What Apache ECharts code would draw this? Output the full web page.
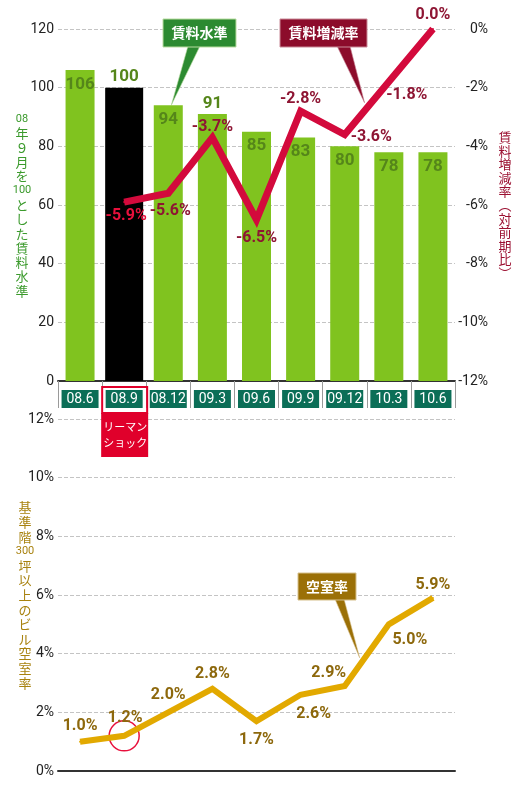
<!DOCTYPE html>
<html>
<head>
<meta charset="utf-8">
<title>賃料水準と空室率</title>
<style>
  *{margin:0;padding:0;}
  #main{width:520px;height:790px;}
</style>
<script src="https://cdn.jsdelivr.net/npm/echarts@6.0.0/dist/echarts.min.js"></script>
</head>
<body>
<div id="main"></div>
<script>
// データ
const periods = ['08.6', '08.9', '08.12', '09.3', '09.6', '09.9', '09.12', '10.3', '10.6'];
const rentLevel = [106, 100, 94, 91, 85, 83, 80, 78, 78];       // 08年9月=100
const rentChange = ['-', -5.9, -5.6, -3.7, -6.5, -2.8, -3.6, -1.8, 0.0]; // 対前期比 %
const vacancy = [1.0, 1.2, 2.0, 2.8, 1.7, 2.6, 2.9, 5.0, 5.9];  // 空室率 %
const levelTicks = {min: 0, max: 120, interval: 20};
const changeTicks = {min: -12, max: 0, interval: 2};
const vacancyTicks = {min: 0, max: 12, interval: 2};
const shockIndex = 1;   // リーマンショック

// ラベル配置（位置・距離・ずらし）
const levelLabelPos = ['insideTop', 'top', 'insideTop', 'top', 'insideTop', 'insideTop', 'insideTop', 'insideTop', 'insideTop'];
const changeLabelPos = [null, ['bottom', 5, [2, 0]], ['bottom', 9, [2, 0]], ['top', 2, [0, 0]], ['bottom', 9, [0, 0]],
  ['top', 3, [0, 0]], ['right', 5, [0, 2]], ['bottom', 4, [18, 0]], ['top', 5, [0, 0]]];
const vacancyLabelPos = [['top', 7, [0, 0]], ['top', 9, [1, 0]], ['top', 8, [0, 0]], ['top', 6, [0, 0]], ['bottom', 10, [0, 0]],
  ['bottom', 10, [13, 0]], ['top', 4, [-16, 0]], ['bottom', 7, [21, 0]], ['top', 4, [0, 0]]];

const NUM = "'Roboto',sans-serif";
const CJK = "'Noto Sans CJK JP',sans-serif";

const chart = echarts.init(document.getElementById('main'));

const dash = {type: 'dashed', color: '#c4c4c4', width: 1};
const tickText = {color: '#222', fontSize: 14, fontFamily: NUM};

const option = {
  backgroundColor: '#fff',
  animation: false,
  grid: [
    {left: 58, width: 397, top: 29, height: 352, outerBoundsMode: 'none'},
    {left: 58, width: 397, top: 419, height: 352, outerBoundsMode: 'none'}
  ],
  xAxis: [
    {
      type: 'category', gridIndex: 0, data: periods,
      axisLine: {lineStyle: {color: '#333', width: 2}},
      axisTick: {show: true, length: 27, lineStyle: {color: '#9a9a9a', width: 1}},
      axisLabel: {
        interval: 0, margin: 9,
        formatter: v => '{b|' + v + '}',
        rich: {b: {color: '#fff', backgroundColor: '#0b6e57', width: 37, height: 18, lineHeight: 18,
          align: 'center', fontSize: 14, fontFamily: NUM}}
      }
    },
    {
      type: 'category', gridIndex: 1, data: periods,
      axisLine: {lineStyle: {color: '#333', width: 2}},
      axisTick: {show: false}, axisLabel: {show: false}
    }
  ],
  yAxis: [
    {
      type: 'value', gridIndex: 0, ...levelTicks,
      axisLine: {show: false}, axisTick: {show: false},
      axisLabel: {...tickText, margin: 4},
      splitLine: {lineStyle: dash},
      name: '{n|08}\n年\n９\n月\nを\n{n|100}\nと\nし\nた\n賃\n料\n水\n準',
      nameLocation: 'middle', nameRotate: 0, nameGap: 36, nameMoveOverlap: false,
      nameTextStyle: {color: '#3b9a2c', fontSize: 13, fontFamily: CJK, lineHeight: 14.3,
        align: 'center', verticalAlign: 'middle',
        rich: {n: {fontSize: 11, fontFamily: NUM, color: '#3b9a2c', lineHeight: 14.3}}}
    },
    {
      type: 'value', gridIndex: 0, position: 'right', ...changeTicks,
      axisLine: {show: false}, axisTick: {show: false},
      axisLabel: {...tickText, margin: 33, align: 'right', formatter: v => v + '%'},
      splitLine: {show: false},
      name: '賃\n料\n増\n減\n率\n︵\n対\n前\n期\n比\n︶',
      nameLocation: 'middle', nameRotate: 0, nameGap: 50, nameMoveOverlap: false,
      nameTextStyle: {color: '#9b1031', fontSize: 13, fontFamily: CJK, lineHeight: 13.6,
        align: 'center', verticalAlign: 'middle'}
    },
    {
      type: 'value', gridIndex: 1, ...vacancyTicks,
      axisLine: {show: false}, axisTick: {show: false},
      axisLabel: {...tickText, margin: 4, formatter: v => v + '%'},
      splitLine: {lineStyle: dash},
      name: '基\n準\n階\n{n|300}\n坪\n以\n上\nの\nビ\nル\n空\n室\n率',
      nameLocation: 'middle', nameRotate: 0, nameGap: 33, nameMoveOverlap: false,
      nameTextStyle: {color: '#a8820f', fontSize: 13, fontFamily: CJK, lineHeight: 14.6,
        align: 'center', verticalAlign: 'middle',
        rich: {n: {fontSize: 11, fontFamily: NUM, color: '#a8820f', lineHeight: 14.6}}}
    }
  ],
  series: [
    {
      name: '賃料水準', type: 'pictorialBar', xAxisIndex: 0, yAxisIndex: 0,
      symbol: 'rect', symbolSize: [29, '100%'], z: 2,
      data: rentLevel.map((v, i) => ({
        value: v,
        symbolSize: i === shockIndex ? [38, '100%'] : [29, '100%'],
        itemStyle: {color: i === shockIndex ? '#000' : '#80c31f'},
        label: {position: levelLabelPos[i], distance: levelLabelPos[i] === 'top' ? 2 : 6}
      })),
      label: {show: true, color: '#55861a', fontSize: 17, fontWeight: 'bold', fontFamily: NUM}
    },
    {
      name: '賃料増減率', type: 'line', xAxisIndex: 0, yAxisIndex: 1, z: 5,
      symbol: 'circle', symbolSize: 2, itemStyle: {color: '#d30a3c'},
      lineStyle: {color: '#d30a3c', width: 7, join: 'miter'},
      data: rentChange.map((v, i) => {
        if (v === '-') return '-';
        const p = changeLabelPos[i];
        return {value: v, label: {position: p[0], distance: p[1], offset: p[2],
          color: i === shockIndex ? '#e8103c' : '#8e1533'}};
      }),
      label: {show: true, fontSize: 16, fontWeight: 'bold', fontFamily: NUM,
        formatter: p => p.value.toFixed(1) + '%'}
    },
    {
      name: '空室率', type: 'line', xAxisIndex: 1, yAxisIndex: 2, z: 5,
      symbol: 'circle', symbolSize: 2, itemStyle: {color: '#e2a900'},
      lineStyle: {color: '#e2a900', width: 6, join: 'miter'},
      data: vacancy.map((v, i) => {
        const p = vacancyLabelPos[i];
        return {value: v, label: {position: p[0], distance: p[1], offset: p[2]}};
      }),
      label: {show: true, color: '#8d680c', fontSize: 16, fontWeight: 'bold', fontFamily: NUM,
        formatter: p => p.value.toFixed(1) + '%'},
      markPoint: {
        silent: true, symbol: 'circle', symbolSize: 30,
        itemStyle: {color: 'rgba(0,0,0,0)', borderColor: '#e8103c', borderWidth: 1.5},
        label: {show: false},
        data: [{coord: [shockIndex, vacancy[shockIndex]]}]
      }
    }
  ]
};
chart.setOption(option);

// 吹き出し・注記（データ位置から算出）
const axesOf = [{xAxisIndex: 0, yAxisIndex: 0}, {xAxisIndex: 0, yAxisIndex: 1}, {xAxisIndex: 1, yAxisIndex: 2}];
function px(ax, i, v) { return chart.convertToPixel(axesOf[ax], [i, v]); }
function between(ax, i, vals, t) {
  const a = px(ax, i, vals[i]), b = px(ax, i + 1, vals[i + 1]);
  return [a[0] + (b[0] - a[0]) * t, a[1] + (b[1] - a[1]) * t];
}
function callout(x, y, w, h, text, fill, stroke, baseL, baseR, tip) {
  return {
    type: 'group', z: 50,
    children: [
      {type: 'polygon', shape: {points: [[baseL, y + h - 1], [baseR, y + h - 1], tip]},
        style: {fill: fill, stroke: stroke, lineWidth: 0.6}},
      {type: 'rect', shape: {x: x, y: y, width: w, height: h},
        style: {fill: fill, stroke: stroke, lineWidth: 1}},
      {type: 'text', x: x + w / 2, y: y + h / 2,
        style: {text: text, fill: '#fff', font: 'bold 14px ' + CJK, align: 'center', verticalAlign: 'middle'}}
    ]
  };
}

const barTip = px(0, 2, rentLevel[2]);
const chgTip = between(1, 6, rentChange, 0.45);
const vacTip = between(2, 6, vacancy, 0.34);
const shock = px(0, shockIndex, 0);

chart.setOption({
  graphic: [
    callout(163, 19, 73, 28, '賃料水準', '#2c8a31', '#b9dca0', 188, 200, [barTip[0] + 3, barTip[1]]),
    callout(280, 19, 87, 28, '賃料増減率', '#8c0c2b', '#c98a98', 337, 350, [chgTip[0], chgTip[1] - 8]),
    callout(298, 573, 58, 27, '空室率', '#9b7007', '#d6c08c', 335, 344, [vacTip[0], vacTip[1] - 7]),
    {
      type: 'rect', z: 40, shape: {x: shock[0] - 22, y: shock[1] + 6, width: 45, height: 26},
      style: {fill: 'none', stroke: '#e0002b', lineWidth: 2}
    },
    {
      type: 'rect', z: 40, shape: {x: shock[0] - 23, y: shock[1] + 32, width: 47, height: 44},
      style: {fill: '#e0002b'}
    },
    {
      type: 'text', z: 41, x: shock[0] + 1, y: shock[1] + 54,
      style: {text: 'リーマン\nショック', fill: '#fff', font: '11px ' + CJK, lineHeight: 16,
        align: 'center', verticalAlign: 'middle'}
    }
  ]
});
</script>
</body>
</html>
